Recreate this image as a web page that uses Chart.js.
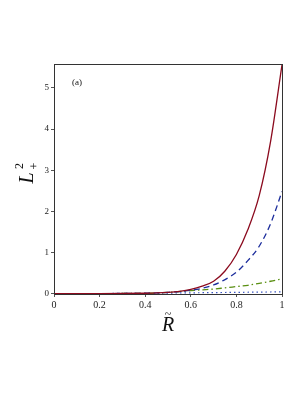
<!DOCTYPE html>
<html>
<head>
<meta charset="utf-8">
<script src="https://cdn.jsdelivr.net/npm/chart.js@4.4.1/dist/chart.umd.min.js"></script>
<style>
  html, body { margin: 0; padding: 0; background: #fff; }
  #wrap { width: 305px; height: 395px; }
</style>
</head>
<body>
<div id="wrap"><canvas id="plot" width="305" height="395"></canvas></div>
<script>
// values
const rValues = [0, 0.1, 0.2, 0.3, 0.4, 0.45, 0.5, 0.55, 0.6, 0.65, 0.7, 0.75, 0.8, 0.85, 0.9, 0.95, 1.0];
const redValues = [0, 0, 0, 0.002, 0.008, 0.015, 0.03, 0.055, 0.1, 0.18, 0.3, 0.55, 0.95, 1.55, 2.38, 3.7, 5.56];
const blueValues = [0, 0, 0, 0.002, 0.008, 0.015, 0.03, 0.05, 0.08, 0.13, 0.21, 0.34, 0.52, 0.8, 1.15, 1.7, 2.48];
const greenValues = [0, 0, 0, 0.002, 0.007, 0.015, 0.03, 0.05, 0.07, 0.09, 0.11, 0.14, 0.17, 0.2, 0.25, 0.3, 0.36];
const dotValues = [0, 0.001, 0.002, 0.004, 0.007, 0.009, 0.012, 0.015, 0.018, 0.021, 0.024, 0.027, 0.03, 0.033, 0.036, 0.039, 0.042];
const xTicks = [0, 0.2, 0.4, 0.6, 0.8, 1];
const yTicks = [0, 1, 2, 3, 4, 5];

function toPoints(ys) {
    return rValues.map((r, i) => ({ x: r, y: ys[i] }));
}

const serif = '"Liberation Serif", "DejaVu Serif", serif';

// labels drawn on top: panel tag and axis titles
const labelsPlugin = {
    id: 'labels',
    afterDraw(chart) {
        const c = chart.ctx;
        const area = chart.chartArea;
        c.save();
        c.fillStyle = '#111';
        c.textBaseline = 'middle';

        c.font = '9px ' + serif;
        c.textAlign = 'left';
        c.fillText('(a)', area.left + 18, 83);

        // x title: R with tilde
        c.font = 'italic 20px ' + serif;
        c.textAlign = 'center';
        c.fillText('R', 168, 326);
        c.font = '12px ' + serif;
        c.fillText('~', 168, 315);

        // y title: L^2_+ rotated
        c.translate(28, 172);
        c.rotate(-Math.PI / 2);
        c.font = 'italic 20px ' + serif;
        c.textAlign = 'center';
        c.fillText('L', -6, 0);
        c.font = '12px ' + serif;
        c.fillText('2', 6, -8);
        c.fillText('+', 6, 7);
        c.restore();

        // frame around the plot
        c.save();
        c.strokeStyle = '#333';
        c.lineWidth = 1;
        c.strokeRect(area.left + 0.5, area.top + 0.5, area.right - area.left, area.bottom - area.top);
        c.restore();
    }
};

const ctx = document.getElementById('plot').getContext('2d');
const chart = new Chart(ctx, {
    type: 'line',
    data: {
        datasets: [
            { data: toPoints(redValues), borderColor: '#8b0a1e', borderWidth: 1.3 },
            { data: toPoints(blueValues), borderColor: '#1c2d9c', borderWidth: 1.3, borderDash: [6, 4] },
            { data: toPoints(greenValues), borderColor: '#5a8f12', borderWidth: 1.3, borderDash: [6, 3, 1.5, 3] },
            { data: toPoints(dotValues), borderColor: '#3a55c0', borderWidth: 1.2, borderDash: [1.5, 3] }
        ]
    },
    options: {
        responsive: false,
        animation: false,
        events: [],
        elements: { point: { radius: 0 }, line: { tension: 0.4, cubicInterpolationMode: 'monotone' } },
        layout: { padding: { top: 64, right: 23, bottom: 0, left: 0 } },
        plugins: { legend: { display: false }, tooltip: { enabled: false } },
        scales: {
            x: {
                type: 'linear',
                min: 0,
                max: 1,
                afterFit(scale) { scale.height = 101; },
                afterBuildTicks(scale) { scale.ticks = xTicks.map(v => ({ value: v })); },
                grid: { drawOnChartArea: false, tickLength: 3, color: '#555' },
                border: { color: '#333' },
                ticks: {
                    color: '#222',
                    font: { family: serif, size: 10 },
                    padding: 2,
                    maxRotation: 0,
                    callback: v => String(v)
                }
            },
            y: {
                min: -0.01,
                max: 5.58,
                afterFit(scale) { scale.width = 54; },
                afterBuildTicks(scale) { scale.ticks = yTicks.map(v => ({ value: v })); },
                grid: { drawOnChartArea: false, tickLength: 3, color: '#555' },
                border: { color: '#333' },
                ticks: {
                    color: '#222',
                    font: { family: serif, size: 9 },
                    padding: 2,
                    callback: v => String(v)
                }
            }
        }
    },
    plugins: [labelsPlugin]
});
</script>
</body>
</html>
